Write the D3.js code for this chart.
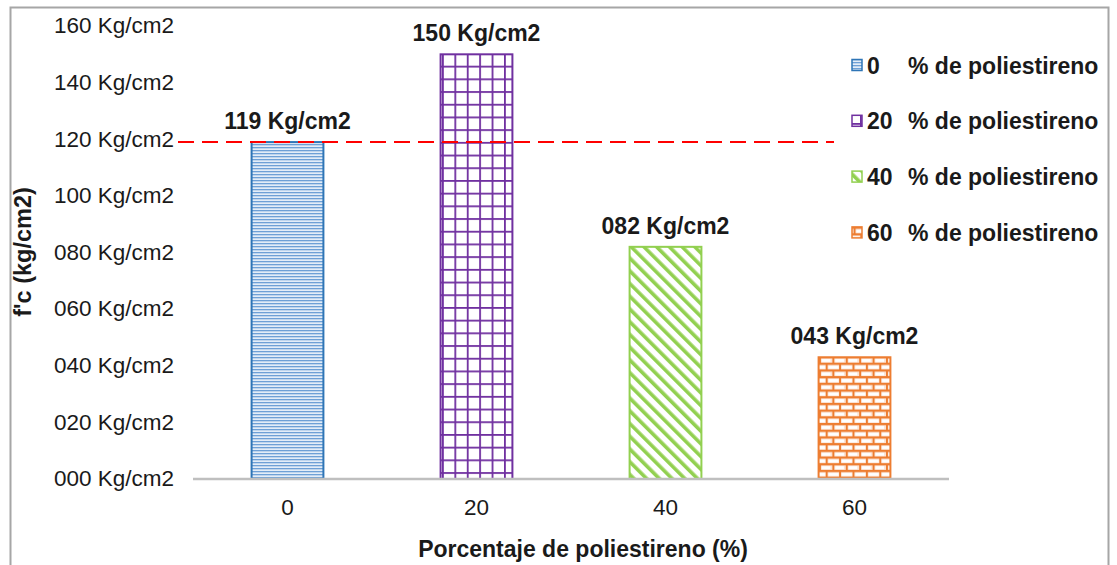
<!DOCTYPE html>
<html>
<head>
<meta charset="utf-8">
<script src="https://cdn.jsdelivr.net/npm/d3@7"></script>
<style>
  html, body { margin: 0; padding: 0; background: #fff; }
  svg { display: block; font-family: "Liberation Sans", Arial, sans-serif; }
</style>
</head>
<body>
<svg id="chart" width="1117" height="565"></svg>
<script>
// Compressive strength f'c for each polystyrene percentage
const categories = ["0", "20", "40", "60"];
const values = [119, 150, 82, 43];
const valueLabels = ["119 Kg/cm2", "150 Kg/cm2", "082 Kg/cm2", "043 Kg/cm2"];
const yTicks = [0, 20, 40, 60, 80, 100, 120, 140, 160];
const yTickLabels = ["000 Kg/cm2", "020 Kg/cm2", "040 Kg/cm2", "060 Kg/cm2", "080 Kg/cm2",
                     "100 Kg/cm2", "120 Kg/cm2", "140 Kg/cm2", "160 Kg/cm2"];
const legendLabels = ["0", "20", "40", "60"];
const referenceLine = 119;
const colors = ["#2E75B6", "#7030A0", "#92D050", "#ED7D31"];

const FONT = "Liberation Sans, Arial, sans-serif";
const svg = d3.select("#chart");

// Outer frame
svg.append("path")
  .attr("d", "M10.5,570 V7.5 H1108.5 V570")
  .attr("fill", "none").attr("stroke", "#a6a6a6").attr("stroke-width", 2);

const x = d3.scaleBand().domain(categories).range([193, 949]).paddingInner(0.62).paddingOuter(0.31);
const y = d3.scaleLinear().domain([0, 160]).range([479, 26]);

// Fill patterns
const defs = svg.append("defs");

// horizontal lines (0 %)
const p0 = defs.append("pattern").attr("id", "pat0").attr("patternUnits", "userSpaceOnUse")
  .attr("width", 8).attr("height", 3);
p0.append("rect").attr("width", 8).attr("height", 3).attr("fill", "#e3edf8");
p0.append("rect").attr("y", 0).attr("width", 8).attr("height", 1.3).attr("fill", "#6ea0d6");

// grid (20 %)
const p1 = defs.append("pattern").attr("id", "pat1").attr("patternUnits", "userSpaceOnUse")
  .attr("width", 12.4).attr("height", 12.7).attr("x", 442).attr("y", 53);
p1.append("rect").attr("width", 12.4).attr("height", 12.7).attr("fill", "#fff");
p1.append("rect").attr("width", 12.4).attr("height", 1.8).attr("fill", colors[1]);
p1.append("rect").attr("width", 1.8).attr("height", 12.7).attr("fill", colors[1]);

// diagonal stripes (40 %), running top-left to bottom-right
const p2 = defs.append("pattern").attr("id", "pat2").attr("patternUnits", "userSpaceOnUse")
  .attr("width", 9).attr("height", 9).attr("patternTransform", "rotate(-45)");
p2.append("rect").attr("width", 9).attr("height", 9).attr("fill", "#fff");
p2.append("rect").attr("width", 3.6).attr("height", 9).attr("fill", colors[2]);

// bricks (60 %)
const p3 = defs.append("pattern").attr("id", "pat3").attr("patternUnits", "userSpaceOnUse")
  .attr("width", 13.4).attr("height", 13.4).attr("x", 819).attr("y", 356);
p3.append("rect").attr("width", 13.4).attr("height", 13.4).attr("fill", "#fbe3d3");
p3.append("rect").attr("width", 13.4).attr("height", 2.2).attr("fill", colors[3]);
p3.append("rect").attr("y", 6.7).attr("width", 13.4).attr("height", 2.2).attr("fill", colors[3]);
p3.append("rect").attr("x", 0).attr("y", 0).attr("width", 2).attr("height", 6.7).attr("fill", colors[3]);
p3.append("rect").attr("x", 6.7).attr("y", 6.7).attr("width", 2).attr("height", 6.7).attr("fill", colors[3]);
p3.append("rect").attr("x", 2.5).attr("y", 3).attr("width", 9).attr("height", 3).attr("fill", "#fff");
p3.append("rect").attr("x", 9.2).attr("y", 9.7).attr("width", 4.2).attr("height", 3).attr("fill", "#fff");
p3.append("rect").attr("x", 0).attr("y", 9.7).attr("width", 6.2).attr("height", 3).attr("fill", "#fff");

// Y axis labels
const yAxis = d3.axisLeft(y).tickValues(yTicks)
  .tickFormat((d, i) => yTickLabels[i]).tickSize(0).tickPadding(19);
const yg = svg.append("g").attr("transform", "translate(193,0)").call(yAxis);
yg.select(".domain").remove();
yg.selectAll("text").attr("font-size", 22.5).attr("fill", "#1a1a1a")
  .attr("font-family", FONT).attr("dy", "0.30em");

// Bars
svg.append("g").selectAll("rect").data(values).join("rect")
  .attr("x", (d, i) => x(categories[i]))
  .attr("y", d => y(d))
  .attr("width", x.bandwidth())
  .attr("height", d => y(0) - y(d))
  .attr("fill", (d, i) => `url(#pat${i})`)
  .attr("stroke", (d, i) => colors[i])
  .attr("stroke-width", 2);

// X axis
const xAxis = d3.axisBottom(x).tickSize(0).tickPadding(20);
const xg = svg.append("g").attr("transform", "translate(0,479)").call(xAxis);
xg.select(".domain").attr("stroke", "#bfbfbf").attr("stroke-width", 2.5)
  .attr("d", "M193,0H949");
xg.selectAll("text").attr("font-size", 22.5).attr("fill", "#1a1a1a")
  .attr("font-family", FONT);

// Reference line at the 0 % strength
svg.append("line")
  .attr("x1", 178).attr("x2", 834)
  .attr("y1", y(referenceLine)).attr("y2", y(referenceLine))
  .attr("stroke", "#ff0000").attr("stroke-width", 2)
  .attr("stroke-dasharray", "16,8");

// Value labels
svg.append("g").selectAll("text").data(values).join("text")
  .attr("x", (d, i) => x(categories[i]) + x.bandwidth() / 2)
  .attr("y", d => y(d) - 13)
  .attr("text-anchor", "middle")
  .attr("font-size", 23).attr("font-weight", "bold").attr("fill", "#1a1a1a")
  .text((d, i) => valueLabels[i]);

// Axis titles
svg.append("text")
  .attr("transform", "translate(31,252) rotate(-90)")
  .attr("text-anchor", "middle")
  .attr("font-size", 23.5).attr("font-weight", "bold").attr("fill", "#1a1a1a")
  .text("f'c (kg/cm2)");
svg.append("text")
  .attr("x", 583).attr("y", 557)
  .attr("text-anchor", "middle")
  .attr("font-size", 23).attr("font-weight", "bold").attr("fill", "#1a1a1a")
  .text("Porcentaje de poliestireno (%)");

// Legend
const legend = svg.append("g");
const rows = legend.selectAll("g").data(legendLabels).join("g")
  .attr("transform", (d, i) => `translate(852,${65 + i * 55.8})`);
rows.append("rect")
  .attr("x", 0).attr("y", -5.5).attr("width", 10).attr("height", 11)
  .attr("fill", (d, i) => `url(#pat${i})`)
  .attr("stroke", (d, i) => colors[i]).attr("stroke-width", 1.5);
rows.append("text")
  .attr("x", 15).attr("y", 8.5)
  .attr("font-size", 23).attr("font-weight", "bold").attr("fill", "#1a1a1a")
  .text(d => d);
rows.append("text")
  .attr("x", 56).attr("y", 8.5)
  .attr("font-size", 23).attr("font-weight", "bold").attr("fill", "#1a1a1a")
  .text("% de poliestireno");
</script>
</body>
</html>
